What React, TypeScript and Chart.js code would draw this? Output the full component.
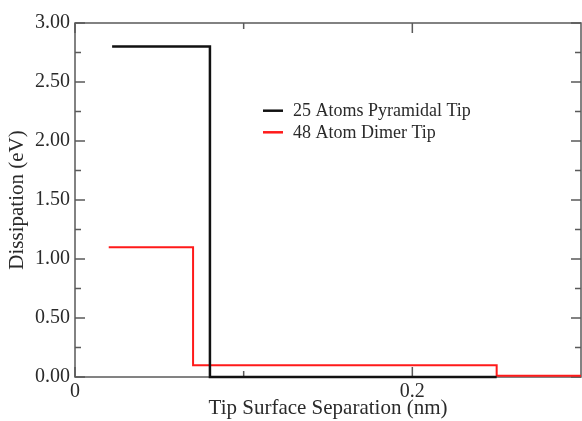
import React, { useEffect, useRef } from "react";
import { Chart, registerables } from "chart.js";

Chart.register(...registerables);

// Data
const pyramidalX = [0.022, 0.08, 0.25];
const pyramidalY = [2.8, 0.0, 0.0];
const dimerX = [0.02, 0.07, 0.25, 0.3];
const dimerY = [1.1, 0.1, 0.01, 0.01];

const seriesLabels = ["25 Atoms Pyramidal Tip", "48 Atom Dimer Tip"];
const seriesColors = ["#111111", "#ff1a1a"];

const xMajorTicks = [0, 0.2];
const xMinorTicks = [0.1];
const yMajorTicks = [0, 0.5, 1.0, 1.5, 2.0, 2.5, 3.0];
const yMinorTicks = [0.25, 0.75, 1.25, 1.75, 2.25, 2.75];

const FONT = "'Liberation Serif', 'Times New Roman', serif";
const FRAME = "#5a5a5a";
const TEXT = "#2a2a2a";

const framePlugin = {
  id: "frameTicks",
  beforeDatasetsDraw(chart: any) {
    const { ctx, chartArea } = chart;
    const { left, right, top, bottom } = chartArea;
    const xs = chart.scales.x;
    const ys = chart.scales.y;
    ctx.save();
    ctx.strokeStyle = FRAME;
    ctx.lineWidth = 1.5;
    ctx.strokeRect(left, top, right - left, bottom - top);
    ctx.beginPath();
    const majorLen = 10;
    const minorLen = 6;
    const drawX = (v: number, len: number) => {
      const px = xs.getPixelForValue(v);
      ctx.moveTo(px, bottom);
      ctx.lineTo(px, bottom - len);
      ctx.moveTo(px, top);
      ctx.lineTo(px, top + len);
    };
    const drawY = (v: number, len: number) => {
      const py = ys.getPixelForValue(v);
      ctx.moveTo(left, py);
      ctx.lineTo(left + len, py);
      ctx.moveTo(right, py);
      ctx.lineTo(right - len, py);
    };
    xMajorTicks.forEach((v) => drawX(v, majorLen));
    xMinorTicks.forEach((v) => drawX(v, minorLen));
    yMajorTicks.forEach((v) => drawY(v, majorLen));
    yMinorTicks.forEach((v) => drawY(v, minorLen));
    ctx.stroke();
    ctx.restore();
  },
  afterDraw(chart: any) {
    const { ctx, chartArea } = chart;
    const x0 = chartArea.left + 188;
    const y0 = 110.7;
    const rowGap = 21.6;
    ctx.save();
    chart.data.datasets.forEach((ds: any, i: number) => {
      const y = y0 + i * rowGap;
      ctx.strokeStyle = ds.borderColor;
      ctx.lineWidth = 2.5;
      ctx.beginPath();
      ctx.moveTo(x0, y);
      ctx.lineTo(x0 + 20, y);
      ctx.stroke();
      ctx.fillStyle = TEXT;
      ctx.font = `18px ${FONT}`;
      ctx.textBaseline = "middle";
      ctx.textAlign = "left";
      ctx.fillText(ds.label, x0 + 30, y + 1);
    });
    ctx.restore();
  },
};

export default function App() {
  const canvasRef = useRef<HTMLCanvasElement | null>(null);

  useEffect(() => {
    document.body.style.margin = "0";
    const canvas = canvasRef.current;
    if (!canvas) return;
    const chart = new Chart(canvas, {
      type: "line",
      data: {
        datasets: [
          {
            label: seriesLabels[0],
            data: pyramidalX.map((x, i) => ({ x, y: pyramidalY[i] })),
            borderColor: seriesColors[0],
            backgroundColor: seriesColors[0],
            borderWidth: 2.5,
            stepped: "before",
            pointRadius: 0,
            fill: false,
            clip: false,
          },
          {
            label: seriesLabels[1],
            data: dimerX.map((x, i) => ({ x, y: dimerY[i] })),
            borderColor: seriesColors[1],
            backgroundColor: seriesColors[1],
            borderWidth: 2,
            stepped: "before",
            pointRadius: 0,
            fill: false,
            clip: false,
          },
        ],
      },
      options: {
        animation: false,
        responsive: false,
        maintainAspectRatio: false,
        layout: { padding: { top: 23, right: 1, left: 0, bottom: 0 } },
        plugins: {
          legend: { display: false },
          tooltip: { enabled: false },
        },
        scales: {
          x: {
            type: "linear",
            min: 0,
            max: 0.3,
            grid: { display: false, drawTicks: false },
            border: { display: false },
            afterBuildTicks: (scale: any) => {
              scale.ticks = xMajorTicks.map((v) => ({ value: v }));
            },
            afterFit: (scale: any) => {
              scale.height = 44;
            },
            ticks: {
              padding: 3,
              color: TEXT,
              font: { family: FONT, size: 20 },
              callback: (v: any) => (v === 0 ? "0" : String(Number(v).toFixed(1))),
              autoSkip: false,
              maxRotation: 0,
            },
            title: {
              display: true,
              text: "Tip Surface Separation (nm)",
              color: TEXT,
              font: { family: FONT, size: 21 },
              padding: { top: 0, bottom: 0 },
            },
          },
          y: {
            type: "linear",
            min: 0,
            max: 3,
            grid: { display: false, drawTicks: false },
            border: { display: false },
            afterBuildTicks: (scale: any) => {
              scale.ticks = yMajorTicks.map((v) => ({ value: v }));
            },
            afterFit: (scale: any) => {
              scale.width = 75;
            },
            ticks: {
              padding: 5,
              color: TEXT,
              font: { family: FONT, size: 20 },
              callback: (v: any) => Number(v).toFixed(2),
              autoSkip: false,
            },
            title: {
              display: true,
              text: "Dissipation (eV)",
              color: TEXT,
              font: { family: FONT, size: 21 },
              padding: { top: 5, bottom: 0 },
            },
          },
        },
      },
      plugins: [framePlugin],
    });
    return () => chart.destroy();
  }, []);

  return <canvas ref={canvasRef} width={582} height={421} style={{ display: "block" }} />;
}
